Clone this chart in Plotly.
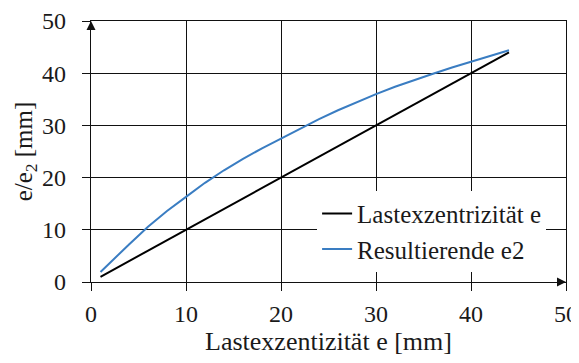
import plotly.graph_objects as go

# Data
e_vals = [1, 2, 4, 6, 8, 10, 12, 14, 16, 18, 20, 22, 24, 26, 28, 30, 32, 34, 36, 38, 40, 42, 44]
last_e = [1, 2, 4, 6, 8, 10, 12, 14, 16, 18, 20, 22, 24, 26, 28, 30, 32, 34, 36, 38, 40, 42, 44]
res_e2 = [1.9, 3.7, 7.2, 10.6, 13.6, 16.3, 19.0, 21.4, 23.6, 25.6, 27.5, 29.4, 31.2,
          32.9, 34.5, 36.0, 37.4, 38.7, 39.9, 41.1, 42.2, 43.3, 44.4]
tick_vals = [0, 10, 20, 30, 40, 50]
axis_max = 50

FONT = "Liberation Serif"
INK = "#111111"

fig = go.Figure()
fig.add_trace(go.Scatter(x=e_vals, y=last_e, mode="lines", name="Lastexzentrizität e",
                         line=dict(color="#000000", width=2)))
fig.add_trace(go.Scatter(x=e_vals, y=res_e2, mode="lines", name="Resultierende e2",
                         line=dict(color="#3a7dc2", width=2)))

# axis-end arrowheads (tip sits on the axis end)
fig.add_trace(go.Scatter(x=[0], y=[axis_max], mode="markers", showlegend=False, hoverinfo="skip",
                         cliponaxis=False,
                         marker=dict(symbol="arrow-up", size=9, color=INK,
                                     line=dict(width=0))))
fig.add_trace(go.Scatter(x=[axis_max], y=[0], mode="markers", showlegend=False, hoverinfo="skip",
                         cliponaxis=False,
                         marker=dict(symbol="arrow-right", size=9, color=INK,
                                     line=dict(width=0))))

axis_common = dict(
    range=[0, axis_max], tickvals=tick_vals, showgrid=True, gridcolor=INK, gridwidth=1.4,
    showline=True, linecolor=INK, linewidth=1.4, mirror=True,
    ticks="outside", ticklen=8, tickcolor=INK, tickwidth=1.4,
    zeroline=False, automargin=False,
    tickfont=dict(family=FONT, size=24, color="#1a1a1a"),
)

fig.update_layout(
    width=571, height=355,
    margin=dict(l=83, r=13, t=13, b=81),
    paper_bgcolor="white", plot_bgcolor="white",
    font=dict(family=FONT, color="#1a1a1a"),
    xaxis=dict(**axis_common, title=dict(text="Lastexzentizität e [mm]",
                                          font=dict(family=FONT, size=26), standoff=4),
               ticklabelstandoff=2),
    yaxis=dict(**axis_common, title=dict(text="e/e<sub>2</sub> [mm]",
                                          font=dict(family=FONT, size=25), standoff=2),
               ticklabelstandoff=11),
    legend=dict(x=0.476, xanchor="left", y=0.35, yanchor="top",
                bgcolor="white", borderwidth=0,
                font=dict(family=FONT, size=25, color="#1a1a1a"),
                tracegroupgap=0, itemwidth=30),
    showlegend=True,
)

fig.write_html("out.html")
